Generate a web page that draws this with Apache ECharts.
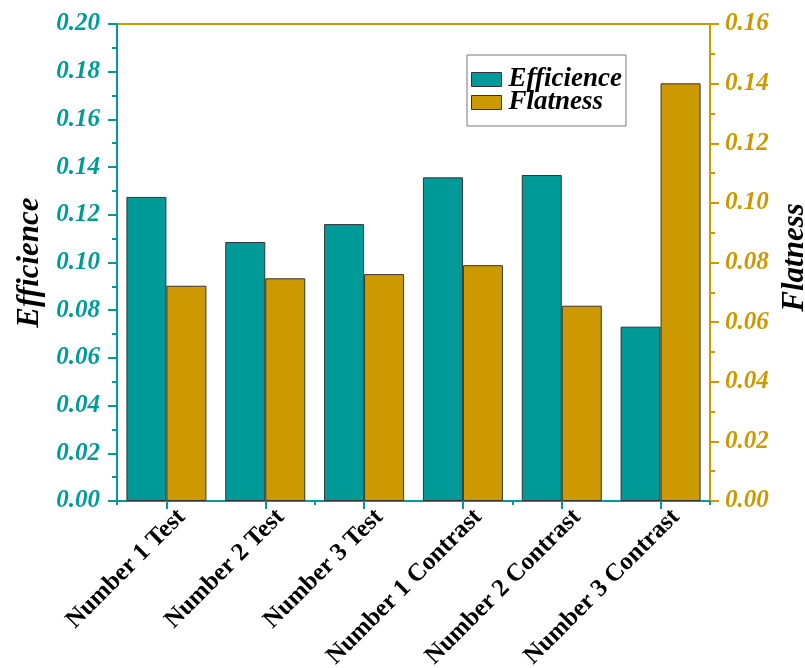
<!DOCTYPE html>
<html>
<head>
<meta charset="utf-8">
<script src="https://cdn.jsdelivr.net/npm/echarts@6/dist/echarts.min.js"></script>
<style>
  html, body { margin: 0; padding: 0; background: #fff; }
  #chart { width: 805px; height: 668px; }
</style>
</head>
<body>
<div id="chart"></div>
<script>
// Sample groups on the category axis
const categories = ['Number 1 Test', 'Number 2 Test', 'Number 3 Test',
                    'Number 1 Contrast', 'Number 2 Contrast', 'Number 3 Contrast'];
// Efficience values (left axis)
const efficience = [0.1275, 0.1086, 0.1161, 0.1357, 0.1367, 0.0731];
// Flatness values (right axis)
const flatness = [0.0722, 0.0747, 0.0761, 0.0791, 0.0655, 0.1401];

const TEAL = '#009B99';
const GOLD = '#CC9900';
const SERIF = '"Liberation Serif", "Times New Roman", serif';

const chart = echarts.init(document.getElementById('chart'), null, { renderer: 'canvas' });

const valueLabel = (color, margin) => ({
  margin: margin,
  color: color,
  fontFamily: SERIF,
  fontWeight: 'bold',
  fontStyle: 'italic',
  fontSize: 25,
  formatter: (v) => v.toFixed(2)
});

const axisNameStyle = (pad) => ({
  fontFamily: SERIF, fontWeight: 'bold', fontStyle: 'italic',
  fontSize: 31, color: '#000', padding: pad
});

chart.setOption({
  animation: false,
  grid: {
    left: 117, right: 95, top: 24, bottom: 167,
    outerBoundsMode: 'none',
    containLabel: false,
    show: true, borderColor: GOLD, borderWidth: 2, backgroundColor: 'transparent'
  },
  legend: {
    left: 467, top: 55,
    orient: 'vertical',
    icon: 'rect',
    itemWidth: 30, itemHeight: 14, itemGap: -4,
    padding: [11, 4, 10, 4],
    borderColor: '#777', borderWidth: 1,
    textStyle: {
      fontFamily: SERIF, fontWeight: 'bold', fontStyle: 'italic',
      fontSize: 27, color: '#000', padding: [0, 0, 0, 2]
    },
    data: [
      { name: 'Efficience', itemStyle: { color: TEAL, borderColor: '#333', borderWidth: 1 } },
      { name: 'Flatness', itemStyle: { color: GOLD, borderColor: '#333', borderWidth: 1 } }
    ]
  },
  xAxis: [
    {
      type: 'category',
      data: categories,
      position: 'bottom',
      axisLine: { show: true, lineStyle: { color: TEAL, width: 2 } },
      axisTick: { show: true, alignWithLabel: true, length: 8, lineStyle: { color: TEAL, width: 2 } },
      axisLabel: {
        interval: 0, rotate: 45, margin: -3,
        verticalAlign: 'top', padding: [9, 0, 0, 0],
        color: '#000', fontFamily: SERIF, fontWeight: 'bold', fontSize: 25
      }
    },
    {
      // short ticks on the group boundaries
      type: 'category',
      data: categories,
      position: 'bottom',
      axisLine: { show: false },
      axisTick: { show: true, length: 4, lineStyle: { color: TEAL, width: 2 } },
      axisLabel: { show: false }
    }
  ],
  yAxis: [
    {
      type: 'value',
      min: 0, max: 0.2, interval: 0.02,
      position: 'left',
      name: 'Efficience',
      nameLocation: 'middle',
      nameRotate: 90,
      nameGap: 68,
      nameTextStyle: axisNameStyle(0),
      axisLine: { show: true, lineStyle: { color: TEAL, width: 2 } },
      axisTick: { show: true, length: 9, lineStyle: { color: TEAL, width: 2 } },
      minorTick: { show: true, splitNumber: 2, length: 5, lineStyle: { color: TEAL, width: 2 } },
      splitLine: { show: false },
      axisLabel: valueLabel(TEAL, 17)
    },
    {
      type: 'value',
      min: 0, max: 0.16, interval: 0.02,
      position: 'right',
      name: 'Flatness',
      nameLocation: 'middle',
      nameRotate: 90,
      nameGap: 66,
      nameTextStyle: axisNameStyle([0, 0, 0, 10]),
      axisLine: { show: true, lineStyle: { color: GOLD, width: 2 } },
      axisTick: { show: true, length: 9, lineStyle: { color: GOLD, width: 2 } },
      minorTick: { show: true, splitNumber: 2, length: 5, lineStyle: { color: GOLD, width: 2 } },
      splitLine: { show: false },
      axisLabel: valueLabel(GOLD, 15)
    }
  ],
  series: [
    {
      name: 'Efficience',
      type: 'bar',
      xAxisIndex: 0,
      yAxisIndex: 0,
      data: efficience,
      barWidth: 40,
      barGap: '0%',
      itemStyle: { color: TEAL, borderColor: '#333', borderWidth: 1 }
    },
    {
      name: 'Flatness',
      type: 'bar',
      xAxisIndex: 0,
      yAxisIndex: 1,
      data: flatness,
      barWidth: 40,
      barGap: '0%',
      itemStyle: { color: GOLD, borderColor: '#333', borderWidth: 1 }
    }
  ]
});
</script>
</body>
</html>
